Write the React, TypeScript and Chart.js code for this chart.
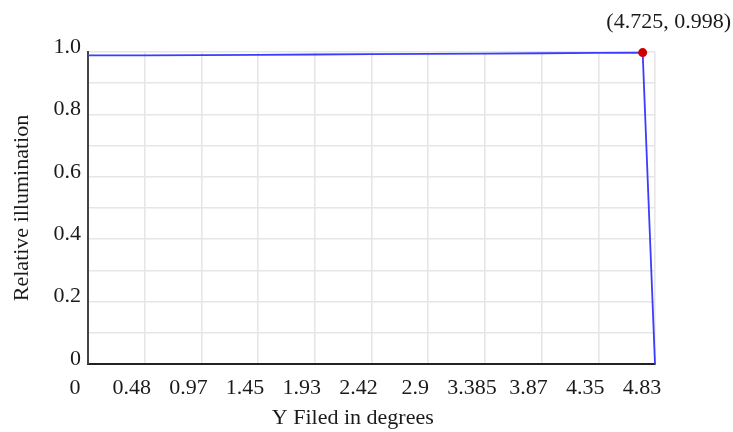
import React, { useEffect, useRef } from "react";
import { Chart, registerables } from "chart.js";

Chart.register(...registerables);

// ---- data ----
const fieldDeg = [0, 0.483, 0.966, 1.449, 1.932, 2.415, 2.898, 3.381, 3.864, 4.347, 4.725, 4.83];
const relIllum = [0.989, 0.989, 0.99, 0.991, 0.992, 0.993, 0.994, 0.995, 0.996, 0.997, 0.998, 0.0];

const highlightX = [4.725];
const highlightY = [0.998];

const xTickValues = [0, 0.483, 0.966, 1.449, 1.932, 2.415, 2.898, 3.381, 3.864, 4.347, 4.83];
const xTickLabels = ["0", "0.48", "0.97", "1.45", "1.93", "2.42", "2.9", "3.385", "3.87", "4.35", "4.83"];
const yTickValues = [0, 0.2, 0.4, 0.6, 0.8, 1.0];
const yTickLabels = ["0", "0.2", "0.4", "0.6", "0.8", "1.0"];

const xTitle = "Y Filed in degrees";
const yTitle = "Relative illumination";

const FONT = "'Liberation Serif', 'Times New Roman', serif";
const TEXT = "#1a1a1a";

export default function App() {
  const ref = useRef<HTMLCanvasElement | null>(null);

  useEffect(() => {
    if (!ref.current) return;

    const overlay = {
      id: "overlay",
      afterDraw(chart: any) {
        const { ctx, chartArea, scales } = chart;
        ctx.save();
        ctx.fillStyle = TEXT;
        ctx.font = `22px ${FONT}`;
        ctx.textAlign = "center";
        ctx.textBaseline = "middle";
        // annotation
        const px = scales.x.getPixelForValue(highlightX[0]);
        const py = scales.y.getPixelForValue(highlightY[0]);
        ctx.fillText(`(${highlightX[0]}, ${highlightY[0]})`, px + 26, py - 30);
        // x title
        ctx.fillText(xTitle, chartArea.left + chartArea.width * 0.467, chartArea.bottom + 54);
        ctx.restore();
      },
    };

    const chart = new Chart(ref.current, {
      type: "scatter",
      data: {
        datasets: [
          {
            data: highlightX.map((x, i) => ({ x, y: highlightY[i] })),
            showLine: false,
            pointRadius: 4.5,
            pointBackgroundColor: "#cc0000",
            pointBorderColor: "#cc0000",
            pointBorderWidth: 0,
            clip: false as any,
            order: 0,
          },
          {
            data: fieldDeg.map((x, i) => ({ x, y: relIllum[i] })),
            showLine: true,
            borderColor: "rgb(60,60,255)",
            borderWidth: 1.8,
            pointRadius: 0,
            tension: 0,
            clip: false as any,
            order: 1,
          },
        ],
      },
      options: {
        responsive: false,
        animation: false,
        layout: { padding: { top: 52, right: 78, left: 0, bottom: 0 } },
        plugins: {
          legend: { display: false },
          tooltip: { enabled: false },
        },
        scales: {
          x: {
            type: "linear",
            min: 0,
            max: 4.83,
            afterBuildTicks: (s: any) => {
              s.ticks = xTickValues.map((v) => ({ value: v }));
            },
            afterFit: (s: any) => {
              s.height = 68;
            },
            ticks: {
              autoSkip: false,
              maxRotation: 0,
              padding: 11,
              labelOffset: -13,
              color: TEXT,
              font: { family: FONT, size: 22 },
              callback: (_v: any, i: number) => xTickLabels[i],
            },
            grid: { color: "#e6e6e6", lineWidth: 1.6, drawTicks: false },
            border: { color: "#222", width: 2 },
            title: { display: false },
          },
          y: {
            type: "linear",
            min: 0,
            max: 1,
            afterBuildTicks: (s: any) => {
              const t: any[] = [];
              for (let i = 0; i <= 10; i++) t.push({ value: i / 10 });
              s.ticks = t;
            },
            afterFit: (s: any) => {
              s.width = 88;
            },
            ticks: {
              autoSkip: false,
              padding: 7,
              labelOffset: -5,
              color: TEXT,
              font: { family: FONT, size: 22 },
              callback: (v: any) => {
                const idx = yTickValues.findIndex((t) => Math.abs(t - Number(v)) < 1e-6);
                return idx >= 0 ? yTickLabels[idx] : "";
              },
            },
            grid: { color: "#e6e6e6", lineWidth: 1.6, drawTicks: false },
            border: { color: "#444", width: 2 },
            title: {
              display: true,
              text: yTitle,
              color: TEXT,
              font: { family: FONT, size: 22 },
              padding: { top: 9, bottom: 0 },
            },
          },
        },
      },
      plugins: [overlay],
    });

    return () => chart.destroy();
  }, []);

  return (
    <div style={{ position: "fixed", left: 0, top: 0, width: 733, height: 432, background: "#fff" }}>
      <canvas ref={ref} width={733} height={432} style={{ display: "block" }} />
    </div>
  );
}
